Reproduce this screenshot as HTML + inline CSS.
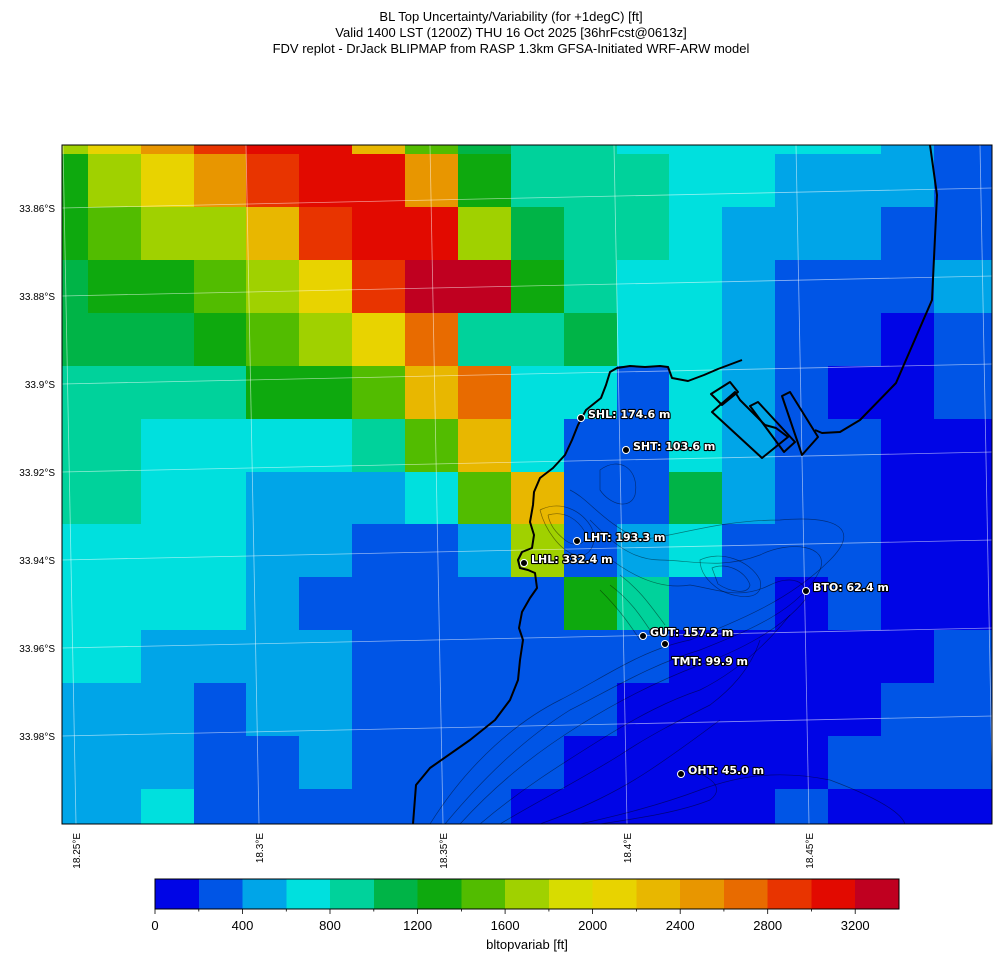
<!DOCTYPE html>
<html><head><meta charset="utf-8"><style>
html,body{margin:0;padding:0;background:#fff;}
svg{display:block;font-family:"Liberation Sans","DejaVu Sans",sans-serif;}
.lb{font-family:"DejaVu Sans","Liberation Sans",sans-serif;font-size:11px;font-weight:bold;fill:#fff;stroke:#000;stroke-width:2.2px;paint-order:stroke;stroke-linejoin:round;}
</style></head><body>
<svg width="1001" height="962" viewBox="0 0 1001 962" xmlns="http://www.w3.org/2000/svg">
<rect width="1001" height="962" fill="#fff"/>
<g text-anchor="middle" font-size="13" fill="#000">
<text x="511" y="21">BL Top Uncertainty/Variability (for +1degC) [ft]</text>
<text x="511" y="37">Valid 1400 LST (1200Z) THU 16 Oct 2025 [36hrFcst@0613z]</text>
<text x="511" y="53">FDV replot - DrJack BLIPMAP from RASP 1.3km GFSA-Initiated WRF-ARW model</text>
</g>
<clipPath id="c"><rect x="62" y="145" width="930" height="679"/></clipPath>
<g clip-path="url(#c)" shape-rendering="crispEdges">
<!-- r0 -->
<rect x="62" y="145" width="26" height="9" fill="#a0d100"/><rect x="88" y="145" width="53" height="9" fill="#e8d300"/><rect x="141" y="145" width="53" height="9" fill="#e89600"/><rect x="194" y="145" width="52" height="9" fill="#e83400"/><rect x="246" y="145" width="106" height="9" fill="#e20a00"/><rect x="352" y="145" width="53" height="9" fill="#e8b700"/><rect x="405" y="145" width="53" height="9" fill="#52bc00"/><rect x="458" y="145" width="53" height="9" fill="#00b447"/><rect x="511" y="145" width="106" height="9" fill="#00d29b"/><rect x="617" y="145" width="264" height="9" fill="#00e0de"/><rect x="881" y="145" width="53" height="9" fill="#00a5e8"/><rect x="934" y="145" width="58" height="9" fill="#0055e6"/>
<!-- r1 -->
<rect x="62" y="154" width="26" height="53" fill="#0ea90e"/><rect x="88" y="154" width="53" height="53" fill="#a0d100"/><rect x="141" y="154" width="53" height="53" fill="#e8d300"/><rect x="194" y="154" width="52" height="53" fill="#e89600"/><rect x="246" y="154" width="53" height="53" fill="#e83400"/><rect x="299" y="154" width="106" height="53" fill="#e20a00"/><rect x="405" y="154" width="53" height="53" fill="#e89600"/><rect x="458" y="154" width="53" height="53" fill="#0ea90e"/><rect x="511" y="154" width="158" height="53" fill="#00d29b"/><rect x="669" y="154" width="106" height="53" fill="#00e0de"/><rect x="775" y="154" width="159" height="53" fill="#00a5e8"/><rect x="934" y="154" width="58" height="53" fill="#0055e6"/>
<!-- r2 -->
<rect x="62" y="207" width="26" height="53" fill="#0ea90e"/><rect x="88" y="207" width="53" height="53" fill="#52bc00"/><rect x="141" y="207" width="105" height="53" fill="#a0d100"/><rect x="246" y="207" width="53" height="53" fill="#e8b700"/><rect x="299" y="207" width="53" height="53" fill="#e83400"/><rect x="352" y="207" width="106" height="53" fill="#e20a00"/><rect x="458" y="207" width="53" height="53" fill="#a0d100"/><rect x="511" y="207" width="53" height="53" fill="#00b447"/><rect x="564" y="207" width="105" height="53" fill="#00d29b"/><rect x="669" y="207" width="53" height="53" fill="#00e0de"/><rect x="722" y="207" width="159" height="53" fill="#00a5e8"/><rect x="881" y="207" width="111" height="53" fill="#0055e6"/>
<!-- r3 -->
<rect x="62" y="260" width="26" height="53" fill="#00b447"/><rect x="88" y="260" width="106" height="53" fill="#0ea90e"/><rect x="194" y="260" width="52" height="53" fill="#52bc00"/><rect x="246" y="260" width="53" height="53" fill="#a0d100"/><rect x="299" y="260" width="53" height="53" fill="#e8d300"/><rect x="352" y="260" width="53" height="53" fill="#e83400"/><rect x="405" y="260" width="106" height="53" fill="#c00020"/><rect x="511" y="260" width="53" height="53" fill="#0ea90e"/><rect x="564" y="260" width="53" height="53" fill="#00d29b"/><rect x="617" y="260" width="105" height="53" fill="#00e0de"/><rect x="722" y="260" width="53" height="53" fill="#00a5e8"/><rect x="775" y="260" width="159" height="53" fill="#0055e6"/><rect x="934" y="260" width="58" height="53" fill="#00a5e8"/>
<!-- r4 -->
<rect x="62" y="313" width="132" height="53" fill="#00b447"/><rect x="194" y="313" width="52" height="53" fill="#0ea90e"/><rect x="246" y="313" width="53" height="53" fill="#52bc00"/><rect x="299" y="313" width="53" height="53" fill="#a0d100"/><rect x="352" y="313" width="53" height="53" fill="#e8d300"/><rect x="405" y="313" width="53" height="53" fill="#e86b00"/><rect x="458" y="313" width="106" height="53" fill="#00d29b"/><rect x="564" y="313" width="53" height="53" fill="#00b447"/><rect x="617" y="313" width="105" height="53" fill="#00e0de"/><rect x="722" y="313" width="53" height="53" fill="#00a5e8"/><rect x="775" y="313" width="106" height="53" fill="#0055e6"/><rect x="881" y="313" width="53" height="53" fill="#0005e6"/><rect x="934" y="313" width="58" height="53" fill="#0055e6"/>
<!-- r5 -->
<rect x="62" y="366" width="184" height="53" fill="#00d29b"/><rect x="246" y="366" width="106" height="53" fill="#0ea90e"/><rect x="352" y="366" width="53" height="53" fill="#52bc00"/><rect x="405" y="366" width="53" height="53" fill="#e8b700"/><rect x="458" y="366" width="53" height="53" fill="#e86b00"/><rect x="511" y="366" width="106" height="53" fill="#00e0de"/><rect x="617" y="366" width="52" height="53" fill="#0055e6"/><rect x="669" y="366" width="53" height="53" fill="#00e0de"/><rect x="722" y="366" width="53" height="53" fill="#00a5e8"/><rect x="775" y="366" width="53" height="53" fill="#0055e6"/><rect x="828" y="366" width="106" height="53" fill="#0005e6"/><rect x="934" y="366" width="58" height="53" fill="#0055e6"/>
<!-- r6 -->
<rect x="62" y="419" width="79" height="53" fill="#00d29b"/><rect x="141" y="419" width="211" height="53" fill="#00e0de"/><rect x="352" y="419" width="53" height="53" fill="#00d29b"/><rect x="405" y="419" width="53" height="53" fill="#52bc00"/><rect x="458" y="419" width="53" height="53" fill="#e8b700"/><rect x="511" y="419" width="53" height="53" fill="#00e0de"/><rect x="564" y="419" width="105" height="53" fill="#0055e6"/><rect x="669" y="419" width="53" height="53" fill="#00e0de"/><rect x="722" y="419" width="53" height="53" fill="#00a5e8"/><rect x="775" y="419" width="106" height="53" fill="#0055e6"/><rect x="881" y="419" width="111" height="53" fill="#0005e6"/>
<!-- r7 -->
<rect x="62" y="472" width="79" height="52" fill="#00d29b"/><rect x="141" y="472" width="105" height="52" fill="#00e0de"/><rect x="246" y="472" width="159" height="52" fill="#00a5e8"/><rect x="405" y="472" width="53" height="52" fill="#00e0de"/><rect x="458" y="472" width="53" height="52" fill="#52bc00"/><rect x="511" y="472" width="53" height="52" fill="#e8b700"/><rect x="564" y="472" width="105" height="52" fill="#0055e6"/><rect x="669" y="472" width="53" height="52" fill="#00b447"/><rect x="722" y="472" width="53" height="52" fill="#00a5e8"/><rect x="775" y="472" width="106" height="52" fill="#0055e6"/><rect x="881" y="472" width="111" height="52" fill="#0005e6"/>
<!-- r8 -->
<rect x="62" y="524" width="184" height="53" fill="#00e0de"/><rect x="246" y="524" width="106" height="53" fill="#00a5e8"/><rect x="352" y="524" width="106" height="53" fill="#0055e6"/><rect x="458" y="524" width="53" height="53" fill="#00a5e8"/><rect x="511" y="524" width="53" height="53" fill="#a0d100"/><rect x="564" y="524" width="53" height="53" fill="#0055e6"/><rect x="617" y="524" width="52" height="53" fill="#00a5e8"/><rect x="669" y="524" width="53" height="53" fill="#00e0de"/><rect x="722" y="524" width="159" height="53" fill="#0055e6"/><rect x="881" y="524" width="111" height="53" fill="#0005e6"/>
<!-- r9 -->
<rect x="62" y="577" width="184" height="53" fill="#00e0de"/><rect x="246" y="577" width="53" height="53" fill="#00a5e8"/><rect x="299" y="577" width="265" height="53" fill="#0055e6"/><rect x="564" y="577" width="53" height="53" fill="#0ea90e"/><rect x="617" y="577" width="52" height="53" fill="#00d29b"/><rect x="669" y="577" width="106" height="53" fill="#0055e6"/><rect x="775" y="577" width="53" height="53" fill="#0005e6"/><rect x="828" y="577" width="53" height="53" fill="#0055e6"/><rect x="881" y="577" width="111" height="53" fill="#0005e6"/>
<!-- r10 -->
<rect x="62" y="630" width="79" height="53" fill="#00e0de"/><rect x="141" y="630" width="211" height="53" fill="#00a5e8"/><rect x="352" y="630" width="317" height="53" fill="#0055e6"/><rect x="669" y="630" width="265" height="53" fill="#0005e6"/><rect x="934" y="630" width="58" height="53" fill="#0055e6"/>
<!-- r11 -->
<rect x="62" y="683" width="132" height="53" fill="#00a5e8"/><rect x="194" y="683" width="52" height="53" fill="#0055e6"/><rect x="246" y="683" width="106" height="53" fill="#00a5e8"/><rect x="352" y="683" width="265" height="53" fill="#0055e6"/><rect x="617" y="683" width="264" height="53" fill="#0005e6"/><rect x="881" y="683" width="111" height="53" fill="#0055e6"/>
<!-- r12 -->
<rect x="62" y="736" width="132" height="53" fill="#00a5e8"/><rect x="194" y="736" width="105" height="53" fill="#0055e6"/><rect x="299" y="736" width="53" height="53" fill="#00a5e8"/><rect x="352" y="736" width="212" height="53" fill="#0055e6"/><rect x="564" y="736" width="264" height="53" fill="#0005e6"/><rect x="828" y="736" width="164" height="53" fill="#0055e6"/>
<!-- r13 -->
<rect x="62" y="789" width="79" height="35" fill="#00a5e8"/><rect x="141" y="789" width="53" height="35" fill="#00e0de"/><rect x="194" y="789" width="317" height="35" fill="#0055e6"/><rect x="511" y="789" width="264" height="35" fill="#0005e6"/><rect x="775" y="789" width="53" height="35" fill="#0055e6"/><rect x="828" y="789" width="164" height="35" fill="#0005e6"/>
</g>
<g clip-path="url(#c)">
<!-- graticule -->
<g stroke="#ffffff" stroke-opacity="0.55" stroke-width="0.8" fill="none">
<line x1="62" y1="208" x2="992" y2="188"/><line x1="62" y1="296" x2="992" y2="276"/><line x1="62" y1="384" x2="992" y2="364"/><line x1="62" y1="472" x2="992" y2="452"/><line x1="62" y1="560" x2="992" y2="540"/><line x1="62" y1="648" x2="992" y2="628"/><line x1="62" y1="736" x2="992" y2="716"/>
<line x1="63" y1="145" x2="76" y2="824"/><line x1="246" y1="145" x2="259" y2="824"/><line x1="430" y1="145" x2="443" y2="824"/><line x1="614" y1="145" x2="627" y2="824"/><line x1="796" y1="145" x2="809" y2="824"/><line x1="980" y1="145" x2="993" y2="824"/>
</g>
<!-- contours -->
<g stroke="#000" stroke-opacity="0.45" stroke-width="0.7" fill="none">
<path d="M430,824 C470,760 520,720 560,700 C600,680 640,650 690,640 C740,620 790,600 830,560 C860,530 840,515 780,520 C720,520 680,535 640,540 C600,520 590,500 570,490"/>
<path d="M445,824 C490,770 530,735 570,710 C610,690 650,665 700,650 C750,630 800,610 820,570 C830,545 790,540 760,555 C720,570 690,560 660,560 C630,560 610,540 590,520"/>
<path d="M460,824 C500,780 540,750 580,725 C620,700 660,680 700,665 C740,650 780,630 805,600 C810,580 790,575 770,585 C740,600 720,590 690,585 C660,590 630,575 605,555"/>
<path d="M480,824 C520,790 560,765 600,740 C640,715 670,700 700,690 C740,670 770,640 790,615"/>
<path d="M500,824 C540,800 580,780 620,755 C650,735 680,720 710,705 C730,690 750,670 760,640"/>
<path d="M540,824 C580,810 620,790 650,770 C680,750 700,735 720,720"/>
<path d="M580,824 C620,815 660,805 700,790 C740,775 780,770 830,780 C870,795 900,810 905,824"/>
<path d="M600,824 C640,818 680,812 710,800 C730,785 700,770 680,770"/>
<path d="M540,510 C560,500 580,510 590,525 C600,540 590,560 575,555 C560,550 545,530 540,510"/>
<path d="M548,515 C565,510 578,520 585,532 C588,545 575,548 565,540 C555,532 550,525 548,515"/>
<path d="M600,470 C620,455 640,470 635,495 C630,510 610,505 600,490 Z"/>
<path d="M700,560 C720,550 750,560 760,580 C765,600 740,600 720,590 C705,580 700,570 700,560 Z"/>
<path d="M712,568 C725,562 745,570 750,585 C748,595 730,592 718,584 Z"/>
<path d="M610,585 C630,600 640,615 650,630 M600,590 C620,610 630,625 640,640 M620,575 C640,590 650,605 665,625"/>
</g>
<!-- coastline -->
<g stroke="#000" stroke-width="2" fill="none" stroke-linejoin="round">
<path d="M413,824 L416,785 L430,768 L470,740 L495,720 L510,700 L518,680 L520,660 L523,640 L519,628 L522,612 L530,598 L537,588 L535,573 L528,570 L520,568 L518,560 L522,552 L532,548 L534,535 L530,522 L533,505 L534,492 L540,478 L553,468 L565,455 L572,440 L578,425 L586,410 L601,398 L606,385 L610,372 L617,368 L630,366 L645,367 L660,366 L668,367 L672,378 L688,381 L704,375 L718,369 L742,360"/>
<path d="M711,394 L730,382 L738,392 L722,405 Z"/>
<path d="M712,412 L762,458 L788,437 L776,428 L765,425 L740,400 L735,392 Z"/>
<path d="M750,406 L758,402 L795,442 L784,452 Z"/>
<path d="M782,396 L790,392 L818,437 L802,455 Z"/>
<path d="M930,145 L937,195 L932,300 L896,383 L860,420 L840,432 L822,433 L815,430"/>
</g>
</g>
<rect x="62" y="145" width="930" height="679" fill="none" stroke="#000" stroke-width="1"/>
<!-- station labels -->
<g fill="#000" stroke="#fff" stroke-width="1">
<circle cx="581" cy="418" r="3.5"/><circle cx="626" cy="450" r="3.5"/><circle cx="577" cy="541" r="3.5"/><circle cx="524" cy="563" r="3.5"/><circle cx="806" cy="591" r="3.5"/><circle cx="643" cy="636" r="3.5"/><circle cx="665" cy="644" r="3.5"/><circle cx="681" cy="774" r="3.5"/>
</g>
<text class="lb" x="588" y="418">SHL: 174.6 m</text>
<text class="lb" x="633" y="450">SHT: 103.6 m</text>
<text class="lb" x="584" y="541">LHT: 193.3 m</text>
<text class="lb" x="531" y="563">LHL: 332.4 m</text>
<text class="lb" x="813" y="591">BTO: 62.4 m</text>
<text class="lb" x="650" y="636">GUT: 157.2 m</text>
<text class="lb" x="672" y="665">TMT: 99.9 m</text>
<text class="lb" x="688" y="774">OHT: 45.0 m</text>
<!-- axis labels -->
<g font-size="10" text-anchor="end" fill="#000">
<text x="55" y="212">33.86°S</text><text x="55" y="300">33.88°S</text><text x="55" y="388">33.9°S</text><text x="55" y="476">33.92°S</text><text x="55" y="564">33.94°S</text><text x="55" y="652">33.96°S</text><text x="55" y="740">33.98°S</text>
</g>
<g font-size="10" text-anchor="end" fill="#000">
<text transform="translate(80,833) rotate(-90)">18.25°E</text>
<text transform="translate(263,833) rotate(-90)">18.3°E</text>
<text transform="translate(447,833) rotate(-90)">18.35°E</text>
<text transform="translate(631,833) rotate(-90)">18.4°E</text>
<text transform="translate(813,833) rotate(-90)">18.45°E</text>
</g>
<!-- colorbar -->
<g shape-rendering="crispEdges">
<rect x="155" y="879" width="44" height="30" fill="#0005e6"/><rect x="198.8" y="879" width="44" height="30" fill="#0055e6"/><rect x="242.5" y="879" width="44" height="30" fill="#00a5e8"/><rect x="286.3" y="879" width="44" height="30" fill="#00e0de"/><rect x="330" y="879" width="44" height="30" fill="#00d29b"/><rect x="373.8" y="879" width="44" height="30" fill="#00b447"/><rect x="417.6" y="879" width="44" height="30" fill="#0ea90e"/><rect x="461.4" y="879" width="44" height="30" fill="#52bc00"/><rect x="505.1" y="879" width="44" height="30" fill="#a0d100"/><rect x="548.9" y="879" width="44" height="30" fill="#d8dc00"/><rect x="592.6" y="879" width="44" height="30" fill="#e8d300"/><rect x="636.4" y="879" width="44" height="30" fill="#e8b700"/><rect x="680.2" y="879" width="44" height="30" fill="#e89600"/><rect x="723.9" y="879" width="44" height="30" fill="#e86b00"/><rect x="767.7" y="879" width="44" height="30" fill="#e83400"/><rect x="811.5" y="879" width="44" height="30" fill="#e20a00"/><rect x="855.2" y="879" width="43.8" height="30" fill="#c00020"/>
</g>
<rect x="155" y="879" width="744" height="30" fill="none" stroke="#000" stroke-width="1"/>
<g stroke="#000" stroke-width="0.8">
<line x1="155" y1="909" x2="155" y2="914"/><line x1="242.5" y1="909" x2="242.5" y2="914"/><line x1="330" y1="909" x2="330" y2="914"/><line x1="417.6" y1="909" x2="417.6" y2="914"/><line x1="505.1" y1="909" x2="505.1" y2="914"/><line x1="592.6" y1="909" x2="592.6" y2="914"/><line x1="680.2" y1="909" x2="680.2" y2="914"/><line x1="767.7" y1="909" x2="767.7" y2="914"/><line x1="855.2" y1="909" x2="855.2" y2="914"/>
<line x1="198.8" y1="909" x2="198.8" y2="911.5"/><line x1="286.3" y1="909" x2="286.3" y2="911.5"/><line x1="373.8" y1="909" x2="373.8" y2="911.5"/><line x1="461.4" y1="909" x2="461.4" y2="911.5"/><line x1="548.9" y1="909" x2="548.9" y2="911.5"/><line x1="636.4" y1="909" x2="636.4" y2="911.5"/><line x1="723.9" y1="909" x2="723.9" y2="911.5"/><line x1="811.5" y1="909" x2="811.5" y2="911.5"/>
</g>
<g font-size="13" text-anchor="middle" fill="#000">
<text x="155" y="930">0</text><text x="242.5" y="930">400</text><text x="330" y="930">800</text><text x="417.6" y="930">1200</text><text x="505.1" y="930">1600</text><text x="592.6" y="930">2000</text><text x="680.2" y="930">2400</text><text x="767.7" y="930">2800</text><text x="855.2" y="930">3200</text>
<text x="527" y="949">bltopvariab [ft]</text>
</g>
</svg>
</body></html>
